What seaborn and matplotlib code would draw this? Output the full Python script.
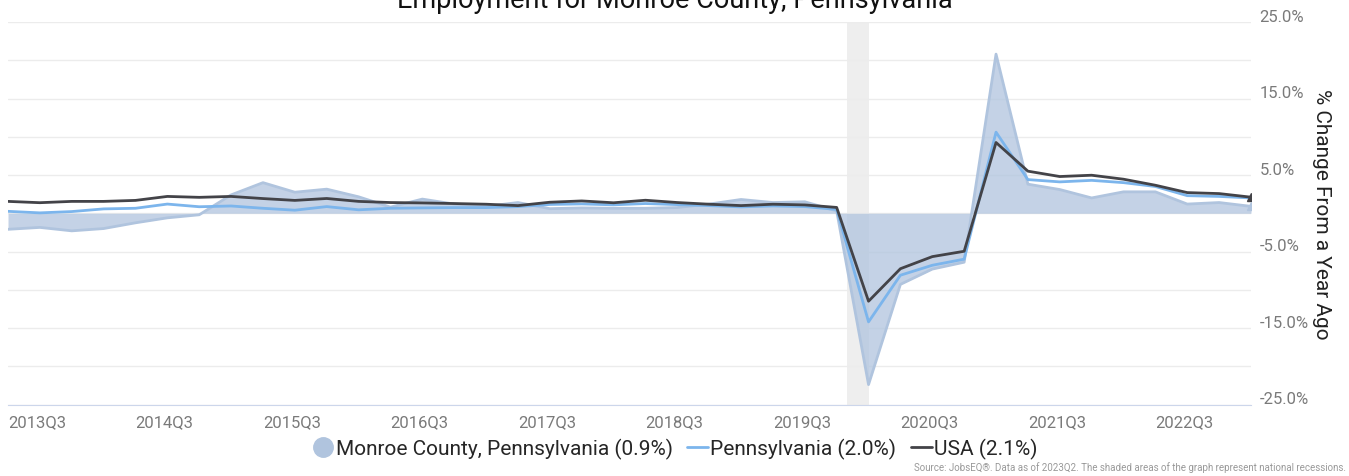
import numpy as np
import pandas as pd
import seaborn as sns
import matplotlib
matplotlib.use("Agg")
import matplotlib.pyplot as plt
from matplotlib.lines import Line2D
from matplotlib.ticker import FixedLocator, FuncFormatter
from matplotlib.transforms import ScaledTranslation

# quarters 2013Q3 .. 2023Q2
quarters = [f"{y}Q{q}" for y in range(2013, 2024) for q in range(1, 5)][2:42]
tick_labels = ['2013Q3', '2014Q3', '2015Q3', '2016Q3', '2017Q3',
               '2018Q3', '2019Q3', '2020Q3', '2021Q3', '2022Q3']

monroe = [-2.1, -1.85, -2.3, -2.0, -1.25, -0.6, -0.2, 2.4, 4.0, 2.75,
          3.15, 2.15, 0.8, 1.85, 1.2, 0.9, 1.4, 0.6, 0.7, 0.65,
          0.65, 0.75, 1.2, 1.8, 1.4, 1.5, 0.3, -22.4, -9.3, -7.3,
          -6.4, 20.8, 3.8, 3.1, 2.0, 2.8, 2.8, 1.2, 1.4, 0.9]
penn = [0.25, 0.05, 0.22, 0.57, 0.65, 1.2, 0.85, 0.95, 0.65, 0.4,
        0.87, 0.45, 0.65, 0.7, 0.74, 0.74, 0.87, 1.15, 1.22, 1.1,
        1.27, 1.13, 1.0, 0.83, 0.96, 0.87, 0.5, -14.2, -8.1, -6.8,
        -6.0, 10.6, 4.4, 4.1, 4.3, 4.0, 3.5, 2.3, 2.2, 2.0]
usa = [1.55, 1.38, 1.55, 1.55, 1.68, 2.2, 2.08, 2.2, 1.92, 1.68,
       1.93, 1.55, 1.4, 1.35, 1.27, 1.18, 1.0, 1.44, 1.61, 1.37,
       1.7, 1.4, 1.18, 1.0, 1.18, 1.09, 0.76, -11.5, -7.25, -5.67,
       -4.97, 9.25, 5.5, 4.8, 4.97, 4.45, 3.66, 2.7, 2.57, 2.1]

recession = (26.31, 27.0)  # 2020 recession, in quarter-index units

df = pd.DataFrame({'q': quarters, 'x': np.arange(len(quarters)),
                   'Monroe': monroe, 'PA': penn, 'USA': usa})

sns.set_style("white")
plt.rcParams['font.family'] = ['Roboto', 'DejaVu Sans']

c_area = '#b0c4de'
c_pa = '#7cb5ec'
c_usa = '#434348'
c_lbl = '#7a7a7a'

fig = plt.figure(figsize=(13.49, 4.77), dpi=100)
ax = fig.add_axes([8/1349, 1-405.5/477, (1251-8)/1349, (405.5-23)/477])

ax.axvspan(*recession, color='#eeeeee', zorder=0, lw=0)
ax.fill_between(df['x'], 0, df['Monroe'], color=c_area, alpha=0.75, lw=0, zorder=1)
sns.lineplot(data=df, x='x', y='Monroe', color=c_area, lw=2, ax=ax, zorder=2)
sns.lineplot(data=df, x='x', y='PA', color=c_pa, lw=2, ax=ax, zorder=3)
sns.lineplot(data=df, x='x', y='USA', color=c_usa, lw=2, ax=ax, zorder=4)
ax.plot(df['x'].iloc[-1], df['USA'].iloc[-1], marker='^', color=c_usa, ms=6, zorder=5)
ax.plot(df['x'].iloc[-1], df['Monroe'].iloc[-1], marker='^', color=c_area, ms=6, zorder=5)

ax.set_xlim(0, len(quarters) - 1)
ax.set_ylim(-25, 25)
ax.set_xlabel('')
ax.set_ylabel('')

# y axis on the right, grid every 5%, labels every other line
ax.yaxis.tick_right()
ax.yaxis.set_major_locator(FixedLocator(np.arange(-25, 26, 5)))
ax.yaxis.set_major_formatter(FuncFormatter(
    lambda v, p: f"{v:.1f}%" if round(v) % 10 != 0 else ''))
ax.tick_params(axis='y', length=0, pad=6, labelsize=12, labelcolor=c_lbl)
for lab in ax.get_yticklabels():
    lab.set_horizontalalignment('left')
    lab.set_transform(lab.get_transform() + ScaledTranslation(0, 7/100, fig.dpi_scale_trans))
ax.grid(axis='y', color='#ececec', lw=1)

tick_pos = [quarters.index(t) for t in tick_labels]
ax.set_xticks(tick_pos)
ax.set_xticklabels(tick_labels)
ax.tick_params(axis='x', length=5, width=1, color='#ccd6eb', pad=2,
               labelsize=12, labelcolor=c_lbl)
for lab in ax.get_xticklabels():
    lab.set_horizontalalignment('left')

for s in ['top', 'left', 'right']:
    ax.spines[s].set_visible(False)
ax.spines['bottom'].set_color('#ccd6eb')

fig.text(0.5, 1-8/477, 'Employment for Monroe County, Pennsylvania',
         ha='center', va='baseline', fontsize=19.5, color='#111111')
fig.text(1322/1349, 1-214/477, '% Change From a Year Ago', rotation=270,
         ha='center', va='center', fontsize=15, color='#222222')

handles = [Line2D([], [], marker='o', ls='none', color=c_area, ms=14),
           Line2D([], [], color=c_pa, lw=2),
           Line2D([], [], color=c_usa, lw=2)]
labels = ['Monroe County, Pennsylvania (0.9%)', 'Pennsylvania (2.0%)', 'USA (2.1%)']
fig.legend(handles, labels, loc='center', bbox_to_anchor=(675/1349, 1-449/477),
           ncol=3, frameon=False, fontsize=15, handlelength=1.0,
           handletextpad=0.1, columnspacing=0.7, borderpad=0)

fig.text(1346/1349, 1-468/477,
         'Source: JobsEQ®. Data as of 2023Q2. The shaded areas of the graph represent national recessions.',
         ha='right', va='center', fontsize=7, color='#999999')

fig.savefig('out.png', dpi=100)
